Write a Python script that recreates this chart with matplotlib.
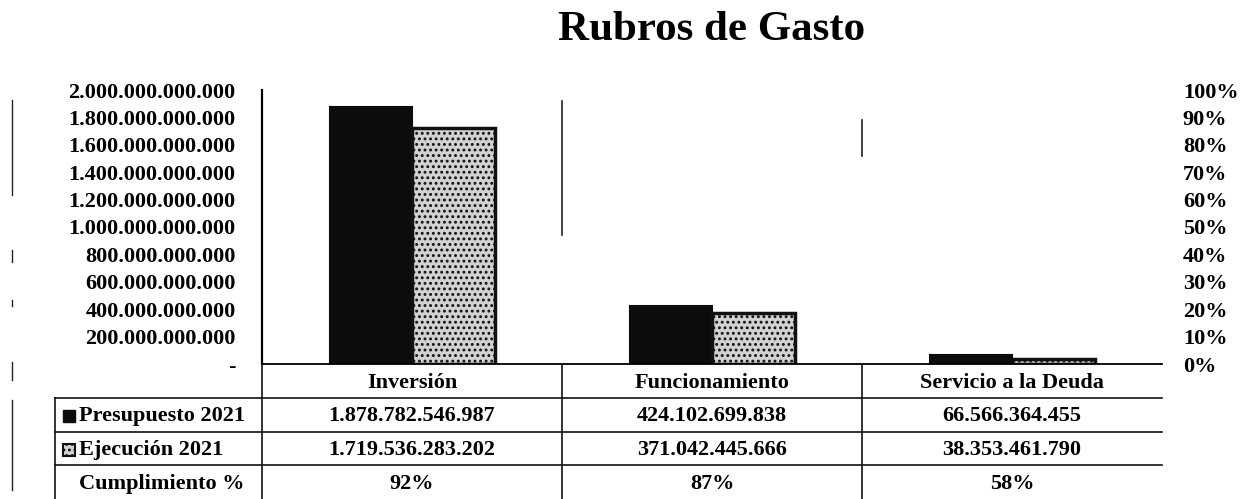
import matplotlib.pyplot as plt
from matplotlib.patches import Rectangle
import numpy as np

# Data
categorias = ['Inversión', 'Funcionamiento', 'Servicio a la Deuda']
presupuesto = [1878782546987, 424102699838, 66566364455]
ejecucion = [1719536283202, 371042445666, 38353461790]
cumplimiento = ['92%', '87%', '58%']
y_ticks = [0, 200e9, 400e9, 600e9, 800e9, 1000e9, 1200e9, 1400e9, 1600e9, 1800e9, 2000e9]
pct_ticks = [0, .1, .2, .3, .4, .5, .6, .7, .8, .9, 1.0]

FONT = ['Liberation Serif', 'DejaVu Serif', 'DejaVu Sans']
plt.rcParams['font.family'] = FONT
plt.rcParams['font.weight'] = 'bold'
plt.rcParams['hatch.linewidth'] = 1.3


def miles(v):
    return f'{int(v):,}'.replace(',', '.')


W, H = 1244, 499
fig = plt.figure(figsize=(W / 100, H / 100), dpi=100)

# main plot area (pixel based)
x0, x1, ytop, ybase = 262, 1162, 90, 364
ax = fig.add_axes([x0 / W, (H - ybase) / H, (x1 - x0) / W, (ybase - ytop) / H])
x = np.arange(len(categorias))
bw = 0.275
ax.bar(x - bw / 2, presupuesto, bw, color='#0c0c0c', edgecolor='#0c0c0c', linewidth=1.5)
ax.bar(x + bw / 2, ejecucion, bw, color='#d2d2d2', edgecolor='#111111',
       hatch='...', linewidth=2.5)
ax.set_xlim(-0.5, 2.5)
ax.set_ylim(0, 2e12)
ax.set_yticks(y_ticks)
ax.set_yticklabels(['-' if v == 0 else miles(v) for v in y_ticks], fontsize=16)
ax.tick_params(axis='y', length=0, pad=19)
ax.set_xticks([])
for s in ['top', 'right']:
    ax.spines[s].set_visible(False)
ax.spines['left'].set_linewidth(1.6)
ax.spines['bottom'].set_linewidth(1.3)
# broken category dividers as seen in the scan
ax.axvline(0.5, ymin=0.47, ymax=0.96, color='#222', lw=1.2)
ax.axvline(1.5, ymin=0.76, ymax=0.89, color='#222', lw=1.2)

# right percentage axis
ax2 = ax.twinx()
ax2.set_ylim(0, 1)
ax2.set_yticks(pct_ticks)
ax2.set_yticklabels([f'{int(round(p * 100))}%' for p in pct_ticks], fontsize=16)
ax2.tick_params(axis='y', length=0, pad=15)
for s in ax2.spines.values():
    s.set_visible(False)

# data table below
tl = 55
tab = fig.add_axes([tl / W, 0, (x1 - tl) / W, (H - ybase) / H])
tab.set_xlim(-0.5 - (x0 - tl) / 300, 2.5)
tab.set_ylim(4, 0)
tab.axis('off')
left_edge = -0.5 - (x0 - tl) / 300
lk = dict(color='#111', lw=1.2, clip_on=False)
for r in [1, 2, 3]:
    tab.plot([left_edge, 2.5], [r, r], **lk)
tab.plot([left_edge, left_edge], [1, 4], **lk)
for xv in [-0.5, 0.5, 1.5]:
    tab.plot([xv, xv], [0, 4], **lk)

for i, c in enumerate(categorias):
    tab.text(i, 0.55, c, ha='center', va='center', fontsize=16)
    tab.text(i, 1.55, miles(presupuesto[i]), ha='center', va='center', fontsize=16)
    tab.text(i, 2.55, miles(ejecucion[i]), ha='center', va='center', fontsize=16)
    tab.text(i, 3.55, cumplimiento[i], ha='center', va='center', fontsize=16)

kx = -0.5 - (x0 - 63) / 300
tx = -0.5 - (x0 - 79) / 300
tab.add_patch(Rectangle((kx, 1.36), 0.04, 0.36, facecolor='#0c0c0c', edgecolor='#0c0c0c', clip_on=False))
tab.add_patch(Rectangle((kx, 2.36), 0.04, 0.36, facecolor='#d2d2d2', edgecolor='#111',
                        hatch='...', lw=1.5, clip_on=False))
tab.text(tx, 1.55, 'Presupuesto 2021', ha='left', va='center', fontsize=16)
tab.text(tx, 2.55, 'Ejecución 2021', ha='left', va='center', fontsize=16)
tab.text(tx, 3.55, 'Cumplimiento %', ha='left', va='center', fontsize=16)

# scan margin marks
for ya, yb in [(100, 195), (250, 262), (300, 306), (362, 380), (400, 490)]:
    fig.add_artist(plt.Line2D([12 / W, 12 / W], [1 - ya / H, 1 - yb / H], color='#222', lw=1))

fig.text(712 / W, 1 - 30 / H, 'Rubros de Gasto', ha='center', va='center', fontsize=31,
         fontweight='bold')

fig.savefig('out.png', dpi=100)
